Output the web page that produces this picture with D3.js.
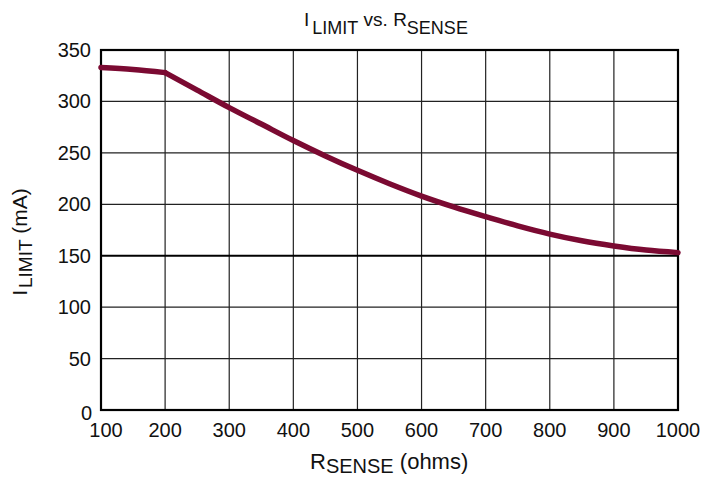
<!DOCTYPE html>
<html>
<head>
<meta charset="utf-8">
<script src="https://cdn.jsdelivr.net/npm/d3@7"></script>
<style>
  body { margin: 0; background: #fff; }
  text { font-family: "Liberation Sans", Arial, sans-serif; fill: #111; }
</style>
</head>
<body>
<div id="chart"></div>
<script>

let rsense = [100, 150, 200, 250, 300, 350, 400, 450, 500, 550, 600, 650, 700, 750, 800, 850, 900, 950, 1000];
let ilimit = [333, 331, 328, 311, 294, 278, 262, 247, 233, 220, 208, 197.5, 188, 179, 171, 164.5, 159.5, 155.5, 153];
let xTicks = [100, 200, 300, 400, 500, 600, 700, 800, 900, 1000];
let yTicks = [0, 50, 100, 150, 200, 250, 300, 350];

var margin = { top: 50, right: 25, bottom: 68, left: 101 };
var width = 703 - margin.left - margin.right;
var height = 478 - margin.top - margin.bottom;

var svg = d3.select("#chart").append("svg")
  .attr("width", 703)
  .attr("height", 478)
  .append("g")
  .attr("transform", "translate(" + margin.left + "," + margin.top + ")");

var x = d3.scaleLinear().domain([100, 1000]).range([0, width]);
var y = d3.scaleLinear().domain([0, 350]).range([height, 0]);

// grid
svg.selectAll(".vgrid").data(xTicks).enter().append("line")
  .attr("x1", d => x(d)).attr("x2", d => x(d))
  .attr("y1", 0).attr("y2", height)
  .attr("stroke", "#222").attr("stroke-width", 1.2);

svg.selectAll(".hgrid").data(yTicks).enter().append("line")
  .attr("x1", 0).attr("x2", width)
  .attr("y1", d => y(d)).attr("y2", d => y(d))
  .attr("stroke", d => d == 150 ? "#000" : "#222")
  .attr("stroke-width", d => d == 150 ? 2 : 1.2);

// frame
svg.append("rect")
  .attr("width", width).attr("height", height)
  .attr("fill", "none").attr("stroke", "#000").attr("stroke-width", 2.2);

// curve: flat part up to 200 ohms, then the smooth fall
var pts = rsense.map((r, i) => [r, ilimit[i]]);
var flat = pts.filter(d => d[0] <= 200);
var fall = pts.filter(d => d[0] >= 200);

var line = d3.line()
  .x(d => x(d[0]))
  .y(d => y(d[1]))
  .curve(d3.curveMonotoneX);

[flat, fall].forEach(function (seg) {
  svg.append("path")
    .datum(seg)
    .attr("d", line)
    .attr("fill", "none")
    .attr("stroke", "#7b0a32")
    .attr("stroke-width", 5.5)
    .attr("stroke-linecap", "round")
    .attr("stroke-linejoin", "round");
});

// tick labels
svg.selectAll(".xt").data(xTicks).enter().append("text")
  .attr("x", d => d == 100 ? x(d) + 5 : x(d))
  .attr("y", height + 27)
  .attr("text-anchor", "middle")
  .attr("font-size", 20)
  .text(d => d);

svg.selectAll(".yt").data(yTicks).enter().append("text")
  .attr("x", d => d == 0 ? -9 : -10)
  .attr("y", d => d == 0 ? y(d) + 10 : y(d) + 7)
  .attr("text-anchor", "end")
  .attr("font-size", 20)
  .text(d => d);

// title
var title = svg.append("text")
  .attr("x", 304 - margin.left)
  .attr("y", 26 - margin.top)
  .attr("font-size", 19);
title.append("tspan").text("I");
title.append("tspan").attr("font-size", 18).attr("dx", 3).attr("dy", 8).text("LIMIT");
title.append("tspan").attr("dy", -8).text(" vs. R");
title.append("tspan").attr("font-size", 18).attr("dy", 8).text("SENSE");

// x axis title
var xt = svg.append("text")
  .attr("x", 310 - margin.left)
  .attr("y", 469 - margin.top)
  .attr("font-size", 22);
xt.append("tspan").text("R");
xt.append("tspan").attr("font-size", 20).attr("dy", 4).text("SENSE");
xt.append("tspan").attr("dy", -4).text(" (ohms)");

// y axis title
var yt = svg.append("text")
  .attr("transform", "translate(" + (-74) + "," + (height / 2 + 12) + ") rotate(-90)")
  .attr("text-anchor", "middle")
  .attr("font-size", 21);
yt.append("tspan").text("I");
yt.append("tspan").attr("font-size", 19).attr("dx", 2).attr("dy", 5).text("LIMIT");
yt.append("tspan").attr("dy", -5).text(" (mA)");

</script>
</body>
</html>
